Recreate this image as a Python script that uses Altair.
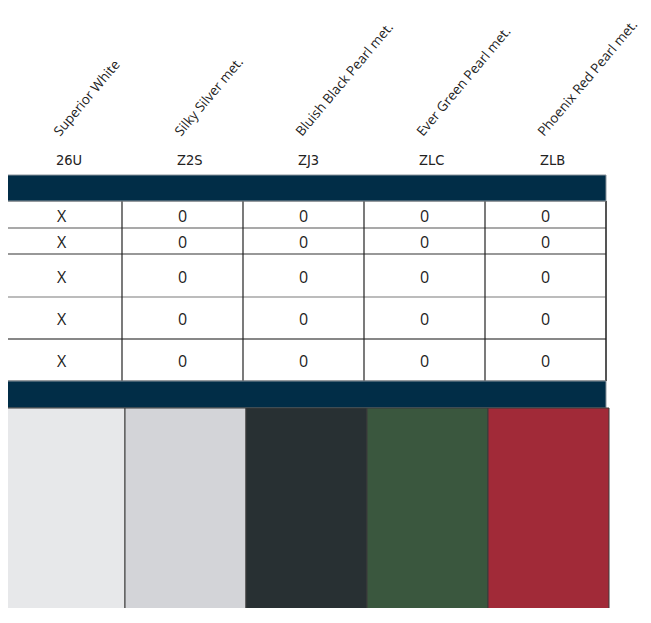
import altair as alt
import pandas as pd

# ---- data ----
color_names = ["Superior White", "Silky Silver met.", "Bluish Black Pearl met.",
               "Ever Green Pearl met.", "Phoenix Red Pearl met."]
color_codes = ["26U", "Z2S", "ZJ3", "ZLC", "ZLB"]
swatch_hex = ["#e7e8ea", "#d3d4d8", "#283033", "#3a573e", "#a12a38"]
row_values = [
    ["X", "0", "0", "0", "0"],
    ["X", "0", "0", "0", "0"],
    ["X", "0", "0", "0", "0"],
    ["X", "0", "0", "0", "0"],
    ["X", "0", "0", "0", "0"],
]

# ---- layout (chart pixel units) ----
W, H = 635, 600
ROW_EDGES = [193, 220, 246, 289, 331, 373]
ROW_LINE_COLORS = ["#555555", "#333333", "#7a7a7a", "#111111"]
HEADER_BAND = (167, 193)
FOOTER_BAND = (373, 400)
SWATCH_TOP = 400
LABEL_Y = 129
CODE_Y = 157
BAND_COLOR = "#012d47"

n = len(color_names)
xs = alt.Scale(domain=[0, n], range=[-7, -7 + 121 * n], zero=False, nice=False)
ys = alt.Scale(domain=[0, H], range=[0, H], zero=False, nice=False)

cols = pd.DataFrame({
    "i": list(range(n)),
    "i1": [i + 1 for i in range(n)],
    "name": color_names,
    "code": color_codes,
    "hex": swatch_hex,
    "label_y": [LABEL_Y] * n,
    "code_y": [CODE_Y] * n,
    "sw_top": [SWATCH_TOP] * n,
    "sw_bot": [H + 20] * n,
})

cells = pd.DataFrame([
    {"xc": c + 0.5, "yc": (ROW_EDGES[r] + ROW_EDGES[r + 1]) / 2, "v": row_values[r][c]}
    for r in range(len(row_values)) for c in range(n)
])

bands = pd.DataFrame({
    "x0": [0, 0], "x1": [n, n],
    "y0": [HEADER_BAND[0], FOOTER_BAND[0]],
    "y1": [HEADER_BAND[1], FOOTER_BAND[1]],
})

body = pd.DataFrame({"x0": [0], "x1": [n], "y0": [ROW_EDGES[0]], "y1": [ROW_EDGES[-1]]})

hlines = pd.DataFrame({
    "y": ROW_EDGES[1:-1],
    "x0": [0] * (len(ROW_EDGES) - 2),
    "x1": [n] * (len(ROW_EDGES) - 2),
    "c": ROW_LINE_COLORS,
})

vlines = pd.DataFrame({
    "x": [i + 1 for i in range(n)],
    "y0": [ROW_EDGES[0]] * n,
    "y1": [ROW_EDGES[-1]] * n,
})

X = lambda f: alt.X(f, scale=xs, axis=None)
Y = lambda f: alt.Y(f, scale=ys, axis=None)

body_rect = alt.Chart(body).mark_rect(fill="white", stroke="#444444", strokeWidth=1).encode(
    x=X("x0:Q"), x2="x1:Q", y=Y("y0:Q"), y2="y1:Q")

band_rect = alt.Chart(bands).mark_rect(fill=BAND_COLOR, stroke="#8a949c", strokeWidth=1).encode(
    x=X("x0:Q"), x2="x1:Q", y=Y("y0:Q"), y2="y1:Q")

h_rules = alt.Chart(hlines).mark_rule(strokeWidth=1.2).encode(
    x=X("x0:Q"), x2="x1:Q", y=Y("y:Q"),
    color=alt.Color("c:N", scale=None))

v_rules = alt.Chart(vlines).mark_rule(color="#222222", strokeWidth=1.2).encode(
    x=X("x:Q"), y=Y("y0:Q"), y2="y1:Q")

cell_text = alt.Chart(cells).mark_text(
    font="Open Sans", fontSize=16, color="#222222", align="center", baseline="middle", dy=2
).encode(x=X("xc:Q"), y=Y("yc:Q"), text="v:N")

swatches = alt.Chart(cols).mark_rect(stroke="#3a3a3a", strokeWidth=1, xOffset=3, x2Offset=3).encode(
    x=X("i:Q"), x2="i1:Q", y=Y("sw_top:Q"), y2="sw_bot:Q",
    fill=alt.Fill("hex:N", scale=None))

names = alt.Chart(cols).mark_text(
    font="Open Sans", fontSize=13.5, color="#222222", angle=310,
    align="left", baseline="alphabetic", xOffset=59
).encode(x=X("i:Q"), y=Y("label_y:Q"), text="name:N")

codes = alt.Chart(cols).mark_text(
    font="DejaVu Sans Condensed", fontSize=14.5, color="#222222",
    align="left", baseline="alphabetic", xOffset=55
).encode(x=X("i:Q"), y=Y("code_y:Q"), text="code:N")

chart = alt.layer(
    body_rect, h_rules, v_rules, cell_text, band_rect, swatches, names, codes
).properties(
    width=W, height=H, autosize=alt.AutoSizeParams(type="none"), padding=0,
    background="white"
).configure_view(stroke=None)

chart.save("out.html", embed_options={"renderer": "svg", "actions": False})
